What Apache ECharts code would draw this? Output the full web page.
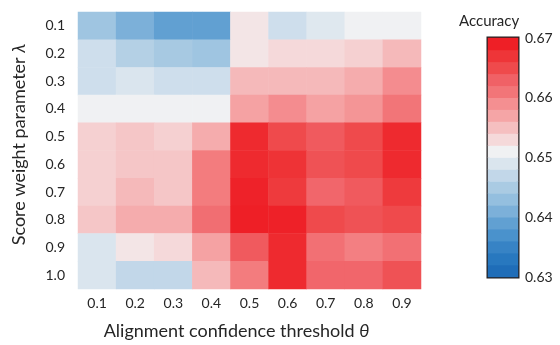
<!DOCTYPE html>
<html>
<head>
<meta charset="utf-8">
<script src="https://cdn.jsdelivr.net/npm/echarts@6/dist/echarts.min.js"></script>
<style>html,body{margin:0;padding:0;background:#fff}#c{width:560px;height:345px}</style>
</head>
<body>
<div id="c"></div>
<script>
// Alignment confidence threshold (x) and score weight parameter (y)
var thetaLabels = ['0.1','0.2','0.3','0.4','0.5','0.6','0.7','0.8','0.9'];
var lambdaLabels = ['0.1','0.2','0.3','0.4','0.5','0.6','0.7','0.8','0.9','1.0'];
// Accuracy per lambda row (columns = theta 0.1..0.9)
var acc_l01 = [0.6440, 0.6410, 0.6390, 0.6390, 0.6520, 0.6480, 0.6495, 0.6510, 0.6510];
var acc_l02 = [0.6480, 0.6458, 0.6447, 0.6440, 0.6520, 0.6530, 0.6530, 0.6537, 0.6555];
var acc_l03 = [0.6480, 0.6490, 0.6480, 0.6480, 0.6555, 0.6555, 0.6555, 0.6565, 0.6592];
var acc_l04 = [0.6510, 0.6510, 0.6510, 0.6510, 0.6573, 0.6592, 0.6573, 0.6585, 0.6610];
var acc_l05 = [0.6537, 0.6545, 0.6537, 0.6565, 0.6680, 0.6650, 0.6636, 0.6650, 0.6680];
var acc_l06 = [0.6537, 0.6545, 0.6545, 0.6605, 0.6680, 0.6672, 0.6643, 0.6650, 0.6680];
var acc_l07 = [0.6537, 0.6555, 0.6545, 0.6605, 0.6687, 0.6665, 0.6625, 0.6636, 0.6665];
var acc_l08 = [0.6545, 0.6565, 0.6565, 0.6617, 0.6695, 0.6688, 0.6650, 0.6643, 0.6650];
var acc_l09 = [0.6490, 0.6520, 0.6530, 0.6573, 0.6636, 0.6680, 0.6615, 0.6602, 0.6615];
var acc_l10 = [0.6490, 0.6470, 0.6470, 0.6555, 0.6605, 0.6680, 0.6625, 0.6625, 0.6643];
var accRows = [acc_l01, acc_l02, acc_l03, acc_l04, acc_l05, acc_l06, acc_l07, acc_l08, acc_l09, acc_l10];
// Colour bar: 20 bands (midpoints) and its tick labels
var barLevels = [0.631,0.633,0.635,0.637,0.639,0.641,0.643,0.645,0.647,0.649,0.651,0.653,0.655,0.657,0.659,0.661,0.663,0.665,0.667,0.669];
var barTicks = [0.63, 0.64, 0.65, 0.66, 0.67];
var bandColors = ['#1f6db8','#2878bf','#3783c5','#4a92cc','#61a0d2','#7cb0d9','#94bfdf','#aacbe3','#c2d7e9','#dae5ee','#f0f1f3','#f5d9da','#f5bfc0','#f5a5a6','#f48f91','#f27578','#f06166','#ef4a4c','#ee3538','#ee1f26'];

var heatData = [];
accRows.forEach(function(row, yi){ row.forEach(function(v, xi){ heatData.push([xi, yi, v]); }); });
var barData = barLevels.map(function(v, i){ return [0, i, v]; });

var FONT = 'Lato';
var TXT = '#262626';
var chart = echarts.init(document.getElementById('c'), null, {renderer:'canvas'});
chart.setOption({
  animation:false,
  textStyle:{fontFamily:FONT},
  title:{text:'Accuracy', left:454, top:9, textStyle:{fontFamily:FONT, fontSize:15, fontWeight:'normal', color:TXT}},
  grid:[
    {left:78, right:139, top:12, bottom:50},
    {left:488, width:30, top:38, height:239, show:true, borderColor:'#231f20', borderWidth:3, backgroundColor:'transparent'}
  ],
  xAxis:[
    {type:'category', gridIndex:0, data:thetaLabels, name:'Alignment confidence threshold {i|θ}', nameLocation:'middle', nameGap:33,
     nameTextStyle:{fontSize:18, color:TXT, fontFamily:FONT, padding:[0,26,0,0], rich:{i:{fontStyle:'italic', fontSize:18, color:TXT, fontFamily:FONT}}},
     axisLine:{show:false}, axisTick:{show:false}, splitLine:{show:false},
     axisLabel:{fontSize:14, color:TXT, margin:7, fontFamily:FONT}},
    {type:'category', gridIndex:1, data:['a'], show:false}
  ],
  yAxis:[
    {type:'category', gridIndex:0, data:lambdaLabels, inverse:true, name:'Score weight parameter {i|λ}', nameLocation:'middle', nameGap:50,
     nameTextStyle:{fontSize:18, color:TXT, fontFamily:FONT, padding:[0,0,0,12], rich:{i:{fontStyle:'italic', fontSize:18, color:TXT, fontFamily:FONT}}},
     axisLine:{show:false}, axisTick:{show:false}, splitLine:{show:false},
     axisLabel:{fontSize:14, color:TXT, margin:13, fontFamily:FONT}},
    {type:'category', gridIndex:1, data:barLevels.map(String), show:false},
    {type:'value', gridIndex:1, position:'right', min:barTicks[0], max:barTicks[barTicks.length-1], interval:0.01,
     axisLine:{show:false}, axisTick:{show:false}, splitLine:{show:false},
     axisLabel:{fontSize:14, color:TXT, margin:7, fontFamily:FONT, formatter:function(v){return v.toFixed(2);}}}
  ],
  visualMap:{type:'continuous', show:false, min:0.631, max:0.669, seriesIndex:[0,1], inRange:{color:bandColors}},
  series:[
    {type:'heatmap', xAxisIndex:0, yAxisIndex:0, data:heatData, itemStyle:{borderWidth:0}, emphasis:{disabled:true}},
    {type:'heatmap', xAxisIndex:1, yAxisIndex:1, data:barData, itemStyle:{borderWidth:0}, emphasis:{disabled:true}}
  ]
});
</script>
</body>
</html>
